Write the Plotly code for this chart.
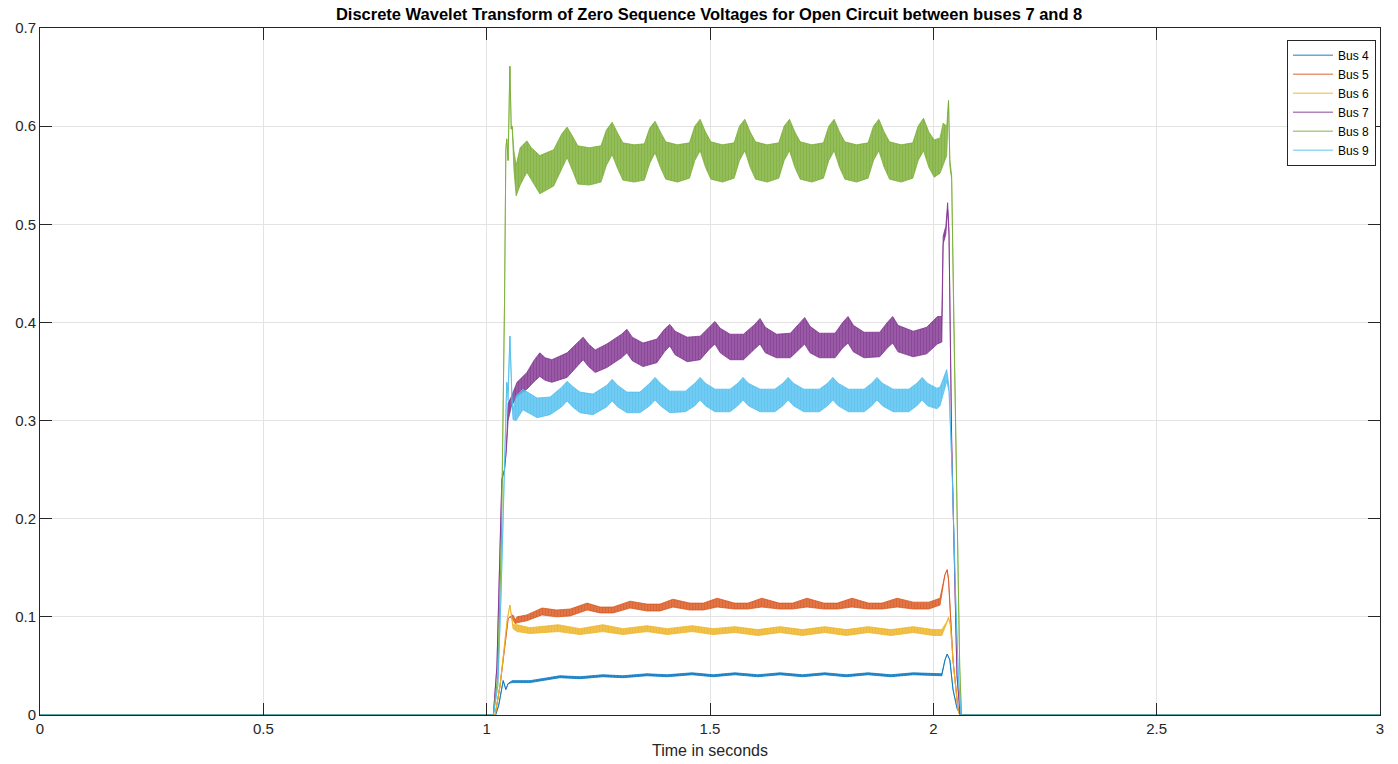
import plotly.graph_objects as go

# ---------------- data (upper / lower envelopes of the dense signal) ----------------
names = ["Bus 4", "Bus 5", "Bus 6", "Bus 7", "Bus 8", "Bus 9"]
colors = ["#0072BD", "#D95319", "#EDB120", "#7E2F8E", "#77AC30", "#4DBEEE"]

t_bus4 = [0.000, 1.020, 1.027, 1.034, 1.037, 1.043, 1.048, 1.057, 1.097, 1.164, 1.209, 1.260, 1.305,
          1.359, 1.404, 1.460, 1.507, 1.556, 1.607, 1.657, 1.707, 1.757, 1.805, 1.854, 1.905, 1.955,
          2.000, 2.019, 2.026, 2.031, 2.037, 2.044, 2.053, 2.060, 3.000]
hi_bus4 = [0.0, 0.0, 0.010, 0.030, 0.035, 0.026, 0.032, 0.035, 0.035, 0.040, 0.039, 0.041, 0.040,
           0.042, 0.041, 0.043, 0.041, 0.043, 0.041, 0.043, 0.041, 0.043, 0.041, 0.043, 0.041, 0.043,
           0.042, 0.042, 0.056, 0.062, 0.056, 0.026, 0.007, 0.0, 0.0]
lo_bus4 = [0.0, 0.0, 0.010, 0.030, 0.035, 0.026, 0.032, 0.033, 0.033, 0.038, 0.037, 0.039, 0.038,
           0.040, 0.039, 0.041, 0.039, 0.041, 0.039, 0.041, 0.039, 0.041, 0.039, 0.041, 0.039, 0.041,
           0.040, 0.040, 0.056, 0.062, 0.056, 0.026, 0.007, 0.0, 0.0]

t_bus5 = [0.000, 1.019, 1.030, 1.040, 1.048, 1.052, 1.059, 1.064, 1.068, 1.090, 1.124, 1.157, 1.187,
          1.225, 1.254, 1.283, 1.321, 1.359, 1.388, 1.417, 1.455, 1.485, 1.516, 1.555, 1.585, 1.616,
          1.655, 1.685, 1.717, 1.755, 1.785, 1.818, 1.855, 1.885, 1.919, 1.955, 1.990, 2.015, 2.026,
          2.031, 2.034, 2.044, 2.055, 2.060, 3.000]
hi_bus5 = [0.0, 0.0, 0.030, 0.070, 0.098, 0.100, 0.102, 0.097, 0.100, 0.102, 0.109, 0.107, 0.108,
           0.114, 0.110, 0.110, 0.116, 0.113, 0.113, 0.118, 0.114, 0.114, 0.119, 0.114, 0.114, 0.119,
           0.114, 0.114, 0.119, 0.114, 0.114, 0.119, 0.114, 0.114, 0.119, 0.115, 0.115, 0.119, 0.143,
           0.148, 0.138, 0.056, 0.008, 0.0, 0.0]
lo_bus5 = [0.0, 0.0, 0.030, 0.070, 0.098, 0.100, 0.097, 0.093, 0.094, 0.096, 0.102, 0.100, 0.101,
           0.107, 0.104, 0.104, 0.109, 0.106, 0.106, 0.110, 0.107, 0.107, 0.110, 0.108, 0.108, 0.110,
           0.108, 0.108, 0.110, 0.108, 0.108, 0.110, 0.108, 0.108, 0.110, 0.108, 0.108, 0.112, 0.143,
           0.148, 0.138, 0.056, 0.008, 0.0, 0.0]

t_bus6 = [0.000, 1.019, 1.030, 1.040, 1.046, 1.052, 1.057, 1.059, 1.068, 1.097, 1.160, 1.209, 1.260,
          1.305, 1.359, 1.404, 1.460, 1.507, 1.556, 1.607, 1.657, 1.707, 1.757, 1.805, 1.854, 1.905,
          1.955, 2.000, 2.019, 2.030, 2.034, 2.038, 2.044, 2.055, 2.059, 3.000]
hi_bus6 = [0.0, 0.0, 0.030, 0.075, 0.097, 0.112, 0.095, 0.092, 0.092, 0.089, 0.092, 0.088, 0.092,
           0.088, 0.091, 0.088, 0.091, 0.088, 0.090, 0.087, 0.090, 0.087, 0.090, 0.087, 0.090, 0.087,
           0.090, 0.087, 0.087, 0.095, 0.100, 0.092, 0.056, 0.005, 0.0, 0.0]
lo_bus6 = [0.0, 0.0, 0.030, 0.075, 0.097, 0.112, 0.093, 0.088, 0.085, 0.083, 0.085, 0.082, 0.085,
           0.082, 0.085, 0.082, 0.085, 0.082, 0.084, 0.081, 0.084, 0.081, 0.084, 0.081, 0.084, 0.081,
           0.084, 0.081, 0.081, 0.093, 0.098, 0.092, 0.056, 0.005, 0.0, 0.0]

t_bus7 = [0.000, 1.015, 1.023, 1.030, 1.034, 1.040, 1.044, 1.048, 1.055, 1.068, 1.090, 1.107, 1.119,
          1.131, 1.146, 1.180, 1.204, 1.216, 1.228, 1.243, 1.269, 1.302, 1.314, 1.326, 1.350, 1.381,
          1.398, 1.410, 1.422, 1.449, 1.478, 1.499, 1.511, 1.523, 1.545, 1.575, 1.600, 1.612, 1.624,
          1.649, 1.680, 1.700, 1.712, 1.724, 1.745, 1.780, 1.797, 1.809, 1.821, 1.845, 1.880, 1.897,
          1.909, 1.921, 1.955, 1.985, 2.009, 2.019, 2.022, 2.028, 2.032, 2.035, 2.041, 2.047, 2.053,
          2.060, 3.000]
hi_bus7 = [0.0, 0.0, 0.050, 0.160, 0.240, 0.250, 0.270, 0.318, 0.324, 0.339, 0.349, 0.362, 0.369,
           0.364, 0.362, 0.369, 0.380, 0.385, 0.378, 0.372, 0.378, 0.388, 0.393, 0.385, 0.379, 0.383,
           0.393, 0.398, 0.391, 0.385, 0.386, 0.396, 0.401, 0.394, 0.388, 0.388, 0.398, 0.404, 0.395,
           0.388, 0.389, 0.399, 0.405, 0.396, 0.389, 0.389, 0.400, 0.406, 0.397, 0.390, 0.390, 0.400,
           0.406, 0.397, 0.391, 0.395, 0.406, 0.406, 0.488, 0.498, 0.522, 0.495, 0.280, 0.158, 0.040,
           0.0, 0.0]
lo_bus7 = [0.0, 0.0, 0.050, 0.160, 0.240, 0.250, 0.270, 0.300, 0.314, 0.325, 0.332, 0.340, 0.345,
           0.341, 0.339, 0.344, 0.356, 0.362, 0.355, 0.349, 0.354, 0.364, 0.369, 0.361, 0.355, 0.359,
           0.370, 0.376, 0.367, 0.360, 0.362, 0.373, 0.378, 0.369, 0.362, 0.362, 0.373, 0.378, 0.369,
           0.364, 0.364, 0.373, 0.378, 0.369, 0.364, 0.364, 0.374, 0.379, 0.370, 0.364, 0.365, 0.374,
           0.379, 0.370, 0.365, 0.368, 0.378, 0.380, 0.480, 0.490, 0.515, 0.490, 0.280, 0.158, 0.040,
           0.0, 0.0]

t_bus8 = [0.000, 1.015, 1.025, 1.033, 1.040, 1.043, 1.045, 1.048, 1.052, 1.055, 1.057, 1.061, 1.066,
          1.075, 1.090, 1.100, 1.119, 1.150, 1.168, 1.180, 1.192, 1.204, 1.230, 1.256, 1.268, 1.281,
          1.293, 1.305, 1.330, 1.353, 1.365, 1.377, 1.389, 1.401, 1.427, 1.454, 1.466, 1.478, 1.490,
          1.502, 1.528, 1.554, 1.566, 1.578, 1.590, 1.602, 1.628, 1.654, 1.666, 1.678, 1.690, 1.702,
          1.728, 1.754, 1.766, 1.778, 1.790, 1.802, 1.828, 1.854, 1.866, 1.878, 1.890, 1.902, 1.928,
          1.954, 1.966, 1.978, 1.990, 2.002, 2.015, 2.022, 2.030, 2.034, 2.037, 2.041, 2.046, 2.051,
          2.055, 2.059, 2.063, 3.000]
hi_bus8 = [0.0, 0.0, 0.040, 0.180, 0.420, 0.577, 0.587, 0.565, 0.661, 0.597, 0.600, 0.575, 0.560,
           0.578, 0.585, 0.578, 0.570, 0.576, 0.592, 0.599, 0.590, 0.580, 0.578, 0.580, 0.596, 0.604,
           0.593, 0.583, 0.581, 0.582, 0.598, 0.605, 0.594, 0.584, 0.581, 0.583, 0.600, 0.607, 0.594,
           0.584, 0.581, 0.583, 0.600, 0.607, 0.594, 0.584, 0.581, 0.583, 0.600, 0.607, 0.594, 0.584,
           0.581, 0.583, 0.600, 0.607, 0.594, 0.584, 0.581, 0.583, 0.600, 0.607, 0.594, 0.584, 0.581,
           0.583, 0.600, 0.608, 0.594, 0.586, 0.588, 0.603, 0.600, 0.626, 0.566, 0.550, 0.393, 0.280,
           0.158, 0.050, 0.0, 0.0]
lo_bus8 = [0.0, 0.0, 0.040, 0.180, 0.420, 0.577, 0.587, 0.565, 0.661, 0.597, 0.600, 0.556, 0.529,
           0.540, 0.553, 0.545, 0.531, 0.539, 0.556, 0.568, 0.555, 0.541, 0.540, 0.543, 0.560, 0.571,
           0.557, 0.545, 0.543, 0.545, 0.562, 0.573, 0.558, 0.546, 0.543, 0.547, 0.565, 0.575, 0.558,
           0.546, 0.543, 0.547, 0.565, 0.575, 0.558, 0.546, 0.543, 0.547, 0.565, 0.575, 0.558, 0.546,
           0.543, 0.547, 0.565, 0.575, 0.558, 0.546, 0.543, 0.547, 0.565, 0.575, 0.558, 0.546, 0.543,
           0.547, 0.565, 0.575, 0.558, 0.548, 0.552, 0.560, 0.570, 0.626, 0.559, 0.546, 0.393, 0.280,
           0.158, 0.050, 0.0, 0.0]

t_bus9 = [0.000, 1.015, 1.025, 1.032, 1.038, 1.041, 1.045, 1.048, 1.052, 1.057, 1.059, 1.066, 1.081,
          1.113, 1.142, 1.168, 1.180, 1.192, 1.209, 1.238, 1.269, 1.281, 1.293, 1.314, 1.343, 1.365,
          1.377, 1.389, 1.410, 1.445, 1.466, 1.478, 1.490, 1.511, 1.545, 1.562, 1.574, 1.586, 1.612,
          1.645, 1.663, 1.675, 1.687, 1.710, 1.745, 1.763, 1.775, 1.787, 1.810, 1.845, 1.862, 1.874,
          1.886, 1.910, 1.945, 1.963, 1.975, 1.987, 2.008, 2.015, 2.030, 2.035, 2.042, 2.050, 2.056,
          2.062, 3.000]
hi_bus9 = [0.0, 0.0, 0.030, 0.120, 0.220, 0.270, 0.339, 0.330, 0.386, 0.321, 0.311, 0.325, 0.332,
           0.323, 0.324, 0.334, 0.340, 0.335, 0.329, 0.327, 0.336, 0.342, 0.336, 0.329, 0.329, 0.338,
           0.344, 0.338, 0.330, 0.330, 0.338, 0.344, 0.338, 0.332, 0.332, 0.338, 0.344, 0.338, 0.332,
           0.332, 0.338, 0.344, 0.338, 0.332, 0.332, 0.338, 0.344, 0.338, 0.332, 0.332, 0.338, 0.344,
           0.338, 0.332, 0.332, 0.338, 0.344, 0.338, 0.333, 0.334, 0.352, 0.335, 0.250, 0.120, 0.040,
           0.0, 0.0]
lo_bus9 = [0.0, 0.0, 0.030, 0.120, 0.220, 0.270, 0.339, 0.320, 0.386, 0.315, 0.301, 0.300, 0.311,
           0.303, 0.306, 0.314, 0.320, 0.314, 0.308, 0.306, 0.314, 0.320, 0.314, 0.308, 0.308, 0.315,
           0.321, 0.315, 0.308, 0.309, 0.315, 0.321, 0.315, 0.309, 0.309, 0.315, 0.321, 0.315, 0.309,
           0.309, 0.315, 0.321, 0.315, 0.309, 0.309, 0.315, 0.321, 0.315, 0.309, 0.309, 0.315, 0.321,
           0.315, 0.309, 0.309, 0.315, 0.321, 0.315, 0.312, 0.315, 0.340, 0.330, 0.250, 0.120, 0.040,
           0.0, 0.0]

x_ticks = [0, 0.5, 1, 1.5, 2, 2.5, 3]
x_tick_labels = ["0", "0.5", "1", "1.5", "2", "2.5", "3"]
y_ticks = [0, 0.1, 0.2, 0.3, 0.4, 0.5, 0.6, 0.7]
y_tick_labels = ["0", "0.1", "0.2", "0.3", "0.4", "0.5", "0.6", "0.7"]

title_text = "Discrete Wavelet Transform of Zero Sequence Voltages for Open Circuit between buses 7 and 8"
x_title = "Time in seconds"

series = [
    (t_bus4, hi_bus4, lo_bus4),
    (t_bus5, hi_bus5, lo_bus5),
    (t_bus6, hi_bus6, lo_bus6),
    (t_bus7, hi_bus7, lo_bus7),
    (t_bus8, hi_bus8, lo_bus8),
    (t_bus9, hi_bus9, lo_bus9),
]

FONT = "Liberation Sans, Arial, sans-serif"
AX = "#262626"


def hex_rgba(h, a):
    h = h.lstrip("#")
    return "rgba(%d,%d,%d,%s)" % (int(h[0:2], 16), int(h[2:4], 16), int(h[4:6], 16), a)


fig = go.Figure()
for name, col, (t, hi, lo) in zip(names, colors, series):
    fig.add_trace(go.Scatter(x=t, y=lo, mode="lines", line=dict(color=hex_rgba(col, 0.75), width=1),
                             showlegend=False, legendgroup=name, hoverinfo="skip"))
    fig.add_trace(go.Scatter(x=t, y=hi, mode="lines", line=dict(color=hex_rgba(col, 0.75), width=1),
                             fill="tonexty", fillcolor=hex_rgba(col, 0.8),
                             fillpattern=dict(shape="|", size=3, solidity=0.45,
                                              fgcolor=col, bgcolor=hex_rgba(col, 0.78)),
                             showlegend=False, legendgroup=name, name=name))
for name, col in zip(names, colors):
    fig.add_trace(go.Scatter(x=[None], y=[None], mode="lines", name=name, legendgroup=name,
                             line=dict(color=hex_rgba(col, 0.6), width=1.5)))

fig.update_layout(
    width=1398, height=764,
    paper_bgcolor="white", plot_bgcolor="white",
    margin=dict(l=40, r=18, t=28, b=49, autoexpand=False),
    font=dict(family=FONT, color=AX, size=15),
    title=dict(text="<b>" + title_text + "</b>", x=0.5072, xanchor="center", y=0.982, yanchor="middle",
               font=dict(family=FONT, size=16.5, color="black")),
    showlegend=True,
    legend=dict(x=0.997, xanchor="right", y=0.983, yanchor="top",
                bgcolor="white", bordercolor=AX, borderwidth=1,
                font=dict(family=FONT, size=12, color="black"),
                tracegroupgap=0, itemwidth=40),
)
fig.update_xaxes(range=[0, 3], tickvals=x_ticks, ticktext=x_tick_labels, automargin=False,
                 showgrid=True, gridcolor="#e3e3e3", gridwidth=1,
                 showline=True, linecolor=AX, linewidth=1, mirror="allticks",
                 ticks="inside", ticklen=12, tickcolor=AX, zeroline=False,
                 tickfont=dict(size=15, color=AX),
                 title=dict(text=x_title, font=dict(size=16, color=AX), standoff=8))
fig.update_yaxes(range=[0, 0.7], tickvals=y_ticks, ticktext=y_tick_labels, automargin=False,
                 showgrid=True, gridcolor="#e3e3e3", gridwidth=1,
                 showline=True, linecolor=AX, linewidth=1, mirror="allticks",
                 ticks="inside", ticklen=12, tickcolor=AX, zeroline=False,
                 tickfont=dict(size=15, color=AX))

fig.write_html("out.html", config={"displayModeBar": False},
               post_script="document.body.style.margin='0';document.body.style.overflow='hidden';")
